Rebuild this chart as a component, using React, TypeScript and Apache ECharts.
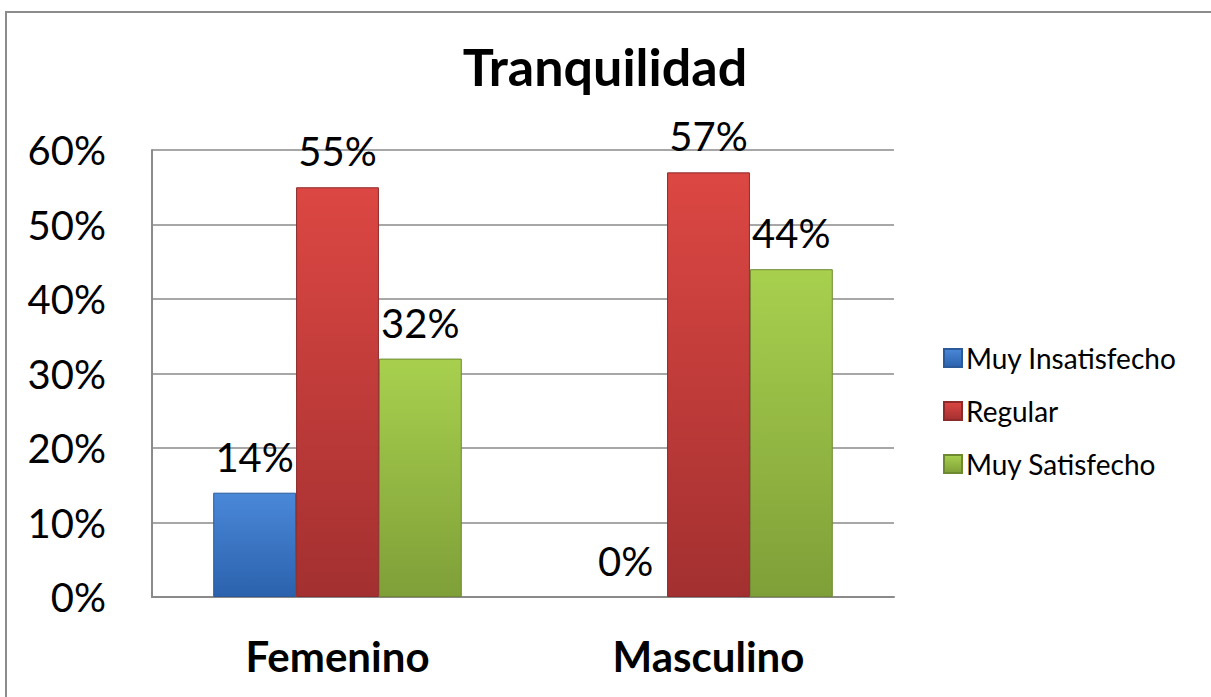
import React, { useEffect, useRef } from "react";
import * as echarts from "echarts";

const categories = ["Femenino", "Masculino"];
const seriesNames = ["Muy Insatisfecho", "Regular", "Muy Satisfecho"];
const muyInsatisfecho = [14, 0];
const regular = [55, 57];
const muySatisfecho = [32, 44];
const yTicks = { min: 0, max: 60, interval: 10 };

const FONT = "Lato";

function grad(top: string, bottom: string) {
  return new echarts.graphic.LinearGradient(0, 0, 0, 1, [
    { offset: 0, color: top },
    { offset: 1, color: bottom },
  ]);
}

export default function App() {
  const ref = useRef<HTMLDivElement>(null);
  useEffect(() => {
    document.body.style.margin = "0";
    if (!ref.current) return;
    const chart = echarts.init(ref.current, undefined, { renderer: "svg" });
    const label = {
      show: true,
      position: "top" as const,
      distance: 16,
      formatter: "{c}%",
      fontFamily: FONT,
      fontSize: 40,
      color: "#000",
    };
    const colors = [
      { fill: grad("#4a88d8", "#2b62ad"), border: "#2a5a9a", legend: "#3f7ccc" },
      { fill: grad("#dc4743", "#a33030"), border: "#8e2a2a", legend: "#c93d3b" },
      { fill: grad("#a8d04e", "#7f9f38"), border: "#6d8a30", legend: "#98bf45" },
    ];
    const data = [muyInsatisfecho, regular, muySatisfecho];
    chart.setOption({
      animation: false,
      backgroundColor: "#fff",
      title: {
        text: "Tranquilidad",
        left: 600,
        top: 35,
        textAlign: "center",
        textStyle: { fontFamily: FONT, fontWeight: "bold", fontSize: 52, color: "#000" },
      },
      legend: {
        orient: "vertical",
        left: 938,
        top: 339,
        itemWidth: 18,
        itemHeight: 18,
        itemGap: 25,
        icon: "rect",
        textStyle: { fontFamily: FONT, fontSize: 28, color: "#000", padding: [0, 0, 0, -1] },
        data: seriesNames,
      },
      grid: { left: 152, top: 150, right: 317, bottom: 100, containLabel: false },
      xAxis: {
        type: "category",
        data: categories,
        axisLine: { lineStyle: { color: "#8a8a8a", width: 2 } },
        axisTick: { show: false },
        axisLabel: {
          fontFamily: FONT,
          fontWeight: "bold",
          fontSize: 42,
          color: "#000",
          margin: 38,
        },
      },
      yAxis: {
        type: "value",
        min: yTicks.min,
        max: yTicks.max,
        interval: yTicks.interval,
        axisLine: { show: true, lineStyle: { color: "#8a8a8a", width: 2 } },
        axisTick: { show: false },
        splitLine: { lineStyle: { color: "#8a8a8a", width: 1.5 } },
        axisLabel: {
          formatter: "{value}%",
          fontFamily: FONT,
          fontSize: 40,
          color: "#000",
          margin: 46,
        },
      },
      graphic: [
        {
          type: "polyline",
          shape: { points: [[6, 697], [6, 12], [1211, 12]] },
          style: { stroke: "#8c8c8c", lineWidth: 2, fill: "none" },
          silent: true,
        },
      ],
      series: seriesNames.map((name, i) => ({
        name,
        type: "bar",
        data: data[i].map((v) => (v === 0 ? { value: v, itemStyle: { borderWidth: 0 } } : v)),
        barGap: "0%",
        barCategoryGap: "33%",
        itemStyle: { color: colors[i].fill, borderColor: colors[i].border, borderWidth: 1 },
        label,
      })),
      color: colors.map((c) => c.legend),
    });
    return () => chart.dispose();
  }, []);
  return <div ref={ref} style={{ width: 1211, height: 697 }} />;
}
